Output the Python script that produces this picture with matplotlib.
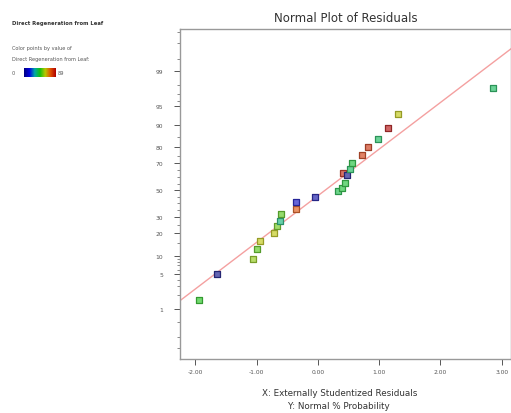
import math
import numpy as np
import matplotlib
import matplotlib.pyplot as plt
from matplotlib.colors import LinearSegmentedColormap, to_rgb

# externally studentized residuals (x) and normal % probability (y)
residuals = [-1.93, -1.64, -1.05, -0.99, -0.95, -0.72, -0.67, -0.62, -0.60, -0.36,
             -0.36, -0.05, 0.33, 0.39, 0.45, 0.41, 0.48, 0.52, 0.56, 0.72,
             0.81, 0.98, 1.14, 1.30, 2.85]
probability = [1.6, 5.0, 8.8, 12.3, 15.9, 20.0, 24.2, 27.4, 32.3, 35.9,
               40.9, 45.0, 49.0, 52.0, 55.4, 63.0, 61.4, 66.0, 70.5, 75.5,
               80.0, 84.0, 88.7, 93.2, 97.7]
# response value used to colour each point (Direct Regeneration from Leaf)
response = [45, 0, 55, 50, 60, 60, 52, 35, 50, 75,
            10, 5, 40, 42, 42, 85, 0, 38, 42, 80,
            82, 38, 89, 60, 38]
resp_min, resp_max = 0, 89

# reference line (in normal-score units): z = intercept + slope * x
line_intercept = -0.11
line_slope = 0.914

y_major = [1, 5, 10, 20, 30, 50, 70, 80, 90, 95, 99]
y_minor = [0.1, 0.2, 0.5, 2, 3, 4, 6, 7, 8, 9, 15, 25, 35, 40, 45, 55, 60, 65,
           75, 85, 96, 97, 98, 99.5, 99.8, 99.9]
x_ticks = [-2, -1, 0, 1, 2, 3]


def norm_cdf(z):
    return 0.5 * (1 + np.vectorize(math.erf)(np.asarray(z, float) / math.sqrt(2)))


def probit(p):
    p = np.clip(np.asarray(p, float) / 100.0, 1e-12, 1 - 1e-12)
    lo = np.full_like(p, -9.0)
    hi = np.full_like(p, 9.0)
    for _ in range(60):
        mid = (lo + hi) / 2
        below = norm_cdf(mid) < p
        lo = np.where(below, mid, lo)
        hi = np.where(below, hi, mid)
    return (lo + hi) / 2


def inv_probit(z):
    return 100.0 * norm_cdf(z)


cmap = LinearSegmentedColormap.from_list(
    "de", ["#000080", "#0000e0", "#00a8a8", "#10c010", "#b8c800", "#e05000", "#b00000"])

fig = plt.figure(figsize=(5.11, 4.14), dpi=100)
ax = fig.add_axes([0.352, 0.1304, 0.648, 0.797])
ax.set_yscale('function', functions=(probit, inv_probit))

# fitted line
xl = np.linspace(-2.3, 3.3, 200)
ax.plot(xl, inv_probit(line_intercept + line_slope * xl), color='#f4a0a0', lw=1.0, zorder=2)

norm = matplotlib.colors.Normalize(resp_min, resp_max)
for x, p, r in zip(residuals, probability, response):
    c = np.array(to_rgb(cmap(norm(r))))
    face = 0.6 * c + 0.4 * np.ones(3)
    edge = c * 0.6 + 0.15
    ax.scatter([x], [p], marker='s', s=17, facecolor=face, edgecolor=edge, linewidth=0.9, zorder=3)

ax.set_xlim(-2.25, 3.15)
ax.set_ylim(0.047, 99.92)
ax.set_xticks(x_ticks)
ax.set_xticklabels([f"{v:.2f}" for v in x_ticks])
ax.set_yticks(y_major)
ax.set_yticklabels([str(v) for v in y_major])
ax.set_yticks(y_minor, minor=True)
ax.yaxis.set_minor_formatter(matplotlib.ticker.NullFormatter())
ax.tick_params(axis='both', labelsize=4.3, colors='#555555', width=0.7, length=4)
ax.tick_params(axis='y', which='minor', length=2.5, width=0.6, colors='#777777')
ax.tick_params(axis='y', pad=8)
for s in ax.spines.values():
    s.set_color('#999999')
    s.set_linewidth(1.0)

ax.set_title("Normal Plot of Residuals", fontsize=8.5, color='#333333', pad=6)
fig.text(0.664, 0.043, "X: Externally Studentized Residuals", ha='center', fontsize=6.3, color='#333333')
fig.text(0.664, 0.011, "Y: Normal % Probability", ha='center', fontsize=6.3, color='#333333')

# colour legend on the left
fig.text(0.023, 0.94, "Direct Regeneration from Leaf", fontsize=3.8, fontweight='bold', color='#333333')
fig.text(0.023, 0.88, "Color points by value of", fontsize=3.6, color='#555555')
fig.text(0.023, 0.853, "Direct Regeneration from Leaf:", fontsize=3.6, color='#555555')
fig.text(0.023, 0.818, "0", fontsize=3.6, color='#555555')
fig.text(0.113, 0.818, "89", fontsize=3.6, color='#555555')
cax = fig.add_axes([0.047, 0.812, 0.061, 0.022])
cax.imshow(np.linspace(0, 1, 100)[None, :], aspect='auto', cmap=cmap)
cax.set_axis_off()

fig.savefig("out.png", dpi=100)
